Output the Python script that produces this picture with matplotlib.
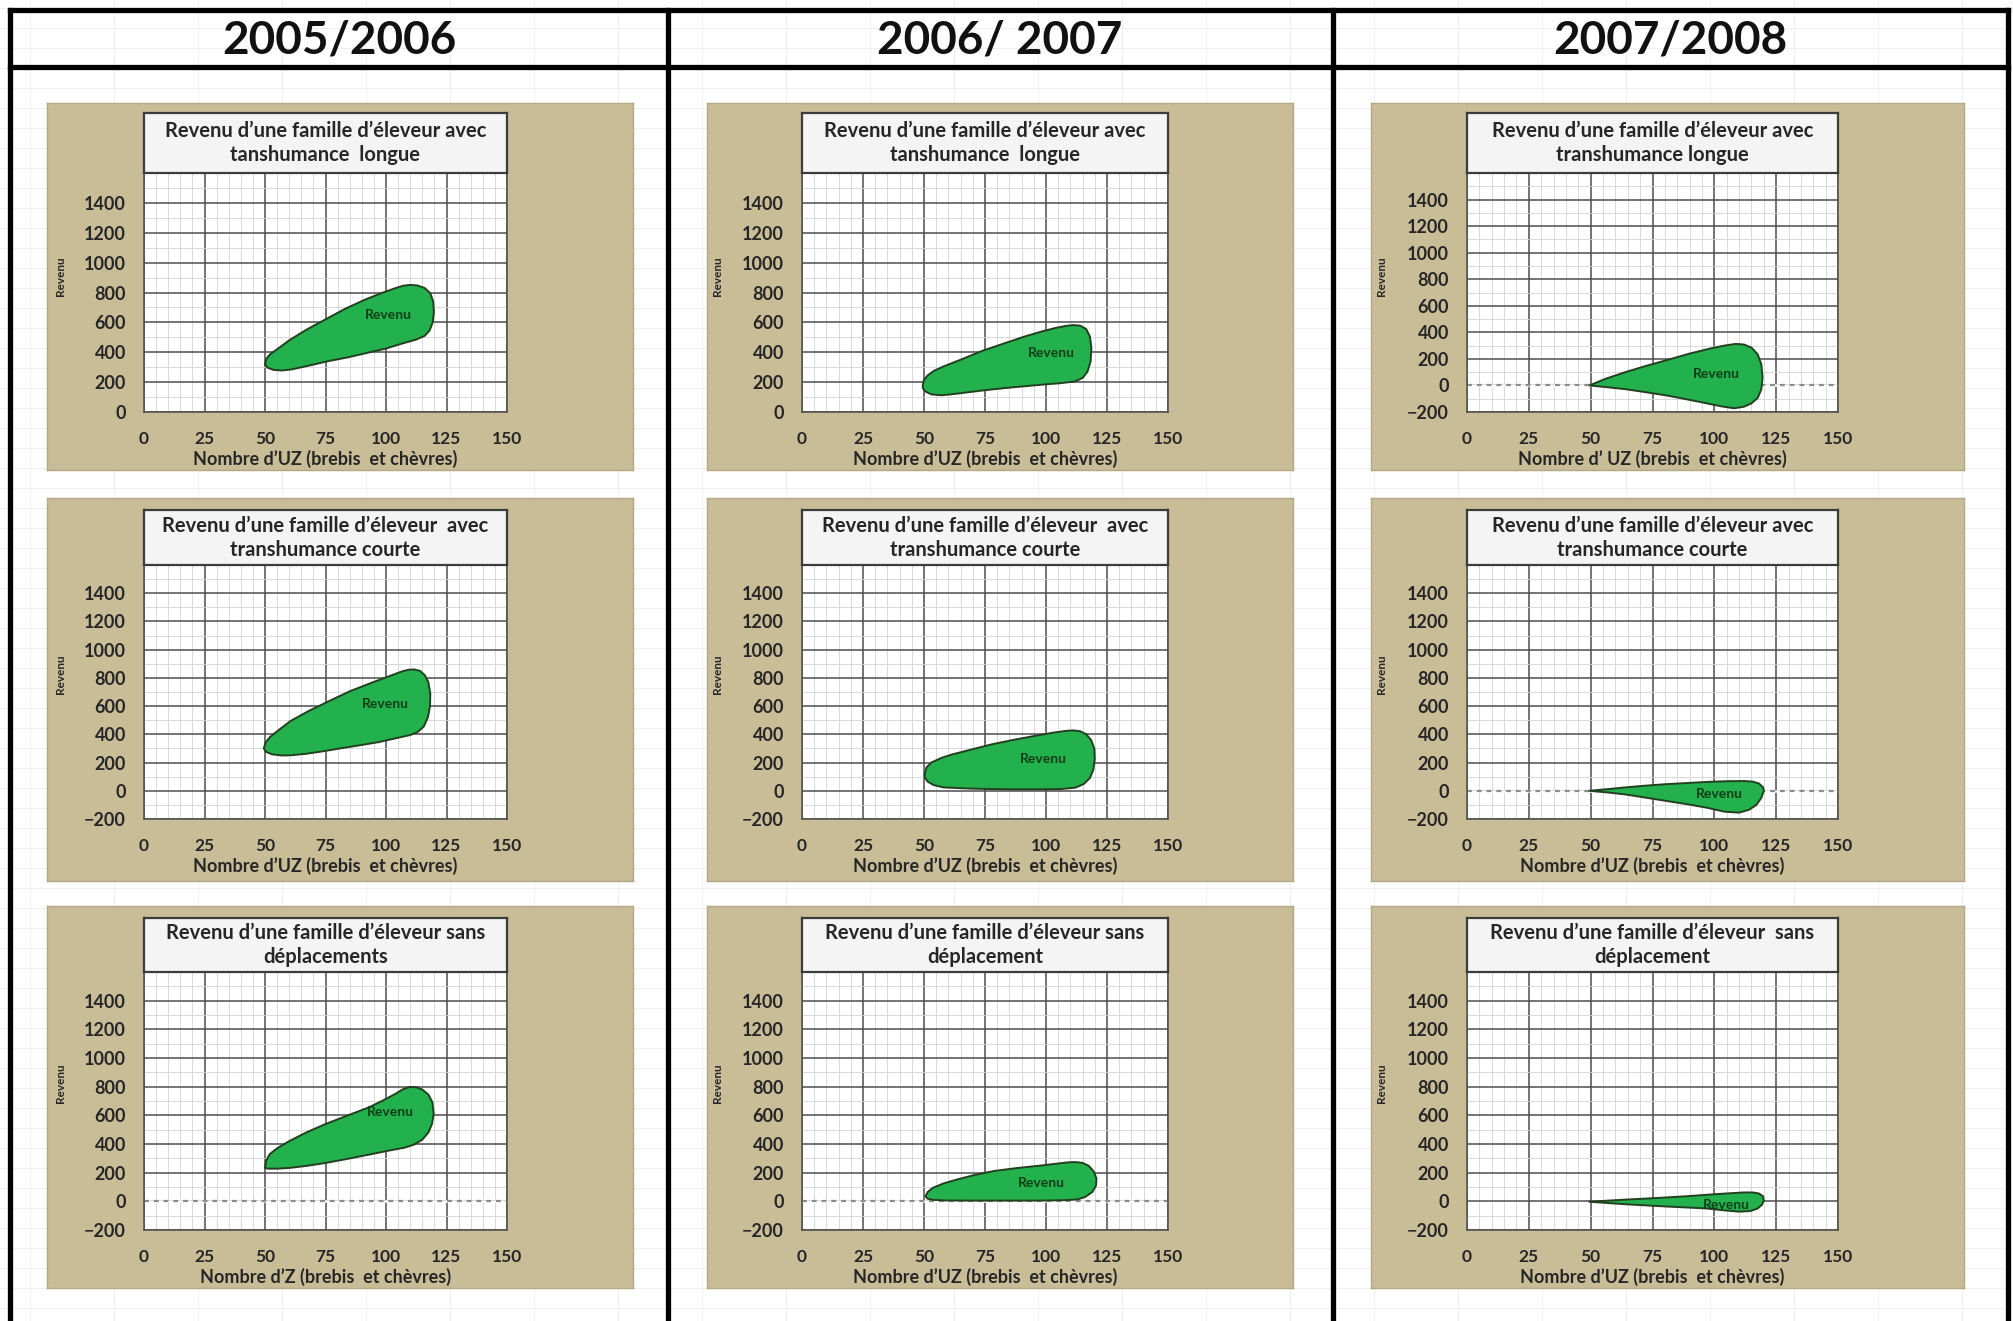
import numpy as np
import matplotlib.pyplot as plt
from matplotlib.ticker import MultipleLocator

plt.rcParams['font.family'] = ['Lato', 'DejaVu Sans']

W, H = 2013, 1321

# ── data ──────────────────────────────────────────────
years = ["2005/2006", "2006/ 2007", "2007/2008"]

# panels in row-major order (row 0 = transhumance longue, row 1 = courte, row 2 = sans déplacement)
titles = [
    "Revenu d\u2019une famille d\u2019éleveur avec\ntanshumance  longue",
    "Revenu d\u2019une famille d\u2019éleveur avec\ntanshumance  longue",
    "Revenu d\u2019une famille d\u2019éleveur avec\ntranshumance longue",
    "Revenu d\u2019une famille d\u2019éleveur  avec\ntranshumance courte",
    "Revenu d\u2019une famille d\u2019éleveur  avec\ntranshumance courte",
    "Revenu d\u2019une famille d\u2019éleveur avec\ntranshumance courte",
    "Revenu d\u2019une famille d\u2019éleveur sans\ndéplacements",
    "Revenu d\u2019une famille d\u2019éleveur sans\ndéplacement",
    "Revenu d\u2019une famille d\u2019éleveur  sans\ndéplacement",
]
xlabels = [
    "Nombre d\u2019UZ (brebis  et chèvres)",
    "Nombre d\u2019UZ (brebis  et chèvres)",
    "Nombre d\u2019 UZ (brebis  et chèvres)",
    "Nombre d\u2019UZ (brebis  et chèvres)",
    "Nombre d\u2019UZ (brebis  et chèvres)",
    "Nombre d\u2019UZ (brebis  et chèvres)",
    "Nombre d\u2019Z (brebis  et chèvres)",
    "Nombre d\u2019UZ (brebis  et chèvres)",
    "Nombre d\u2019UZ (brebis  et chèvres)",
]
y_min = [0, 0, -200, -200, -200, -200, -200, -200, -200]
x_ticks = [0, 25, 50, 75, 100, 125, 150]

# outline of the "Revenu" area in each panel (Nombre d'UZ, Revenu)
r0c0_x = [50, 50.5, 52, 55, 60, 67, 75, 83, 91, 98, 104, 107, 110, 113, 116, 118.3, 119.5, 119.8,
          119.3, 118, 116, 112.5, 106, 100, 92, 84, 76, 68, 61, 57, 53.5, 51, 50]
r0c0_y = [320, 355, 385, 420, 480, 550, 620, 690, 750, 795, 830, 845, 851, 847, 830, 795, 740, 670,
          600, 545, 510, 485, 455, 425, 395, 365, 340, 310, 285, 278, 282, 297, 320]
r0c1_x = [49.5, 50, 51.5, 54, 58, 65, 74, 83, 91, 98, 104, 108, 111, 114, 116.5, 118, 118.6, 118.3,
          117, 115, 112, 106, 99, 91, 83, 75, 67, 61, 57, 53, 50.5, 49.5]
r0c1_y = [180, 215, 245, 275, 305, 350, 410, 460, 504, 538, 563, 576, 582, 578, 555, 505, 430, 340,
          270, 228, 205, 193, 184, 172, 160, 146, 130, 118, 112, 118, 138, 160]
r0c2_x = [49.5, 56, 64, 72, 80.6, 90, 98.8, 104, 108.7, 112, 115, 117.5, 119, 119.5, 119, 117.5,
          115, 112, 108, 103, 97, 89, 80.6, 72, 64, 56, 49.5]
r0c2_y = [0, 50, 100, 145, 190, 240, 280, 300, 313, 308, 285, 235, 160, 60, -30, -95,
          -135, -160, -172, -158, -135, -105, -75, -50, -28, -12, 0]
r1c0_x = [49.5, 50.2, 52, 56, 60.5, 68, 76.4, 85, 94, 101, 106.8, 109.5, 111.6, 114, 116, 117.5,
          118.3, 118.2, 117.3, 115.6, 113, 110, 104, 97, 89, 81, 74, 67, 61, 57, 53, 50.5, 49.5]
r1c0_y = [300, 340, 380, 435, 494, 565, 635, 705, 765, 810, 847, 858, 860, 850, 820, 770,
          690, 600, 520, 455, 415, 395, 372, 345, 322, 300, 280, 262, 252, 250, 258, 275, 300]
r1c1_x = [50.3, 51, 53, 57, 61, 70, 78, 87, 96.4, 103, 108, 111, 114, 116.5, 118.5, 119.8, 120,
          119.4, 118, 115.5, 112, 106, 96.4, 87, 78, 68, 58, 54, 51.5, 50.3]
r1c1_y = [120, 165, 200, 232, 255, 295, 330, 362, 392, 412, 424, 428, 422, 400, 360, 300, 230,
          150, 90, 48, 22, 12, 10, 10, 12, 16, 24, 40, 65, 95]
r1c2_x = [49.5, 57, 64, 72, 80.6, 90, 98.8, 106, 112, 115.5, 118, 119.7, 120, 119, 117, 114, 110,
          104, 97, 89, 80.6, 72, 64, 57, 49.5]
r1c2_y = [0, 12, 24, 36, 47, 56, 64, 68, 69, 65, 52, 25, 0, -50, -100, -135, -155,
          -148, -120, -95, -72, -48, -26, -12, 0]
r2c0_x = [50, 50.5, 52, 55, 60, 67, 74.8, 84, 93, 99, 104, 107, 109.7, 112.5, 115, 117.5, 119.2,
          119.7, 119, 117.5, 115, 111.5, 107.8, 100, 93, 84, 74.8, 67, 60, 55, 51.5, 50]
r2c0_y = [235, 285, 330, 370, 420, 480, 538, 598, 656, 706, 751, 782, 798, 796, 780, 745, 690,
          610, 540, 480, 430, 395, 375, 350, 326, 296, 267, 247, 233, 228, 228, 232]
r2c1_x = [50.6, 51.5, 53.6, 58, 63.7, 71, 78.8, 88, 97, 104, 109, 112, 115, 117.5, 119.5, 120.7,
          120.5, 119, 116, 113, 108, 97, 88, 78.8, 68, 58.7, 54, 51.5, 50.6]
r2c1_y = [35, 65, 94, 125, 153, 185, 212, 232, 248, 262, 272, 274, 268, 248, 210, 160,
          110, 65, 30, 14, 8, 5, 5, 5, 5, 6, 10, 18, 35]
r2c2_x = [49.5, 57, 64, 72, 80.6, 90, 98.8, 106, 112, 115.5, 118, 119.7, 120, 119.2, 117.5, 114.5,
          110, 104, 97, 89, 80.6, 72, 64, 57, 49.5]
r2c2_y = [-3, 5, 12, 19, 27, 37, 48, 56, 62, 62, 55, 35, 5, -25, -50, -68,
          -72, -63, -50, -43, -36, -28, -20, -12, -3]

blob_x = [r0c0_x, r0c1_x, r0c2_x, r1c0_x, r1c1_x, r1c2_x, r2c0_x, r2c1_x, r2c2_x]
blob_y = [r0c0_y, r0c1_y, r0c2_y, r1c0_y, r1c1_y, r1c2_y, r2c0_y, r2c1_y, r2c2_y]

# where the "Revenu" series label sits
label_x = [101, 102, 101, 99.6, 99, 102, 102, 98, 105]
label_y = [650, 392, 86, 612, 224, -24, 621, 125, -24]

# ── layout (pixels of the 2013x1321 picture) ─────────
col_tan = [(47, 633), (707, 1293), (1371, 1964)]
col_plot = [(144, 507), (802, 1168), (1467, 1838)]
row_tan = [(103, 470), (498, 881), (906, 1288)]
row_title = [(113, 173), (510, 565), (918, 972)]
row_bottom = [412, 819, 1230]
zero_dashed = [False, False, True, False, False, True, True, True, False]

TAN = '#c9bd98'
GREEN = '#22b14c'
TXT = '#262626'


def rect(x0, y0, x1, y1):
    return [x0 / W, 1 - y1 / H, (x1 - x0) / W, (y1 - y0) / H]


fig = plt.figure(figsize=(W / 100, H / 100), dpi=100)

# background: spreadsheet cells + table frame
bg = fig.add_axes([0, 0, 1, 1], zorder=0)
bg.set_xlim(0, W)
bg.set_ylim(H, 0)
bg.axis('off')
for yy in range(8, H, 20):
    bg.axhline(yy, color='#ededed', lw=0.6)
for xx in range(30, W, 84):
    bg.axvline(xx, color='#ededed', lw=0.6)

lw_tab = 3.8
bg.plot([10, 2008], [10, 10], color='black', lw=lw_tab, solid_capstyle='projecting')
bg.plot([10, 2008], [67, 67], color='black', lw=lw_tab)
for xx in [10, 668, 1333, 2008]:
    bg.plot([xx, xx], [10, H], color='black', lw=lw_tab, solid_capstyle='projecting')
bg.fill_between([12, 2006], 12, 65, color='white', zorder=0.5)
for j, yr in enumerate(years):
    cx = [339, 1000, 1670][j]
    bg.text(cx, 41, yr, ha='center', va='center', fontsize=33, fontweight='bold', color='#111111')

for k in range(9):
    r, c = divmod(k, 3)
    tx0, tx1 = col_tan[c]
    ty0, ty1 = row_tan[r]
    px0, px1 = col_plot[c]
    t0, t1 = row_title[r]
    pb = row_bottom[r]

    # tan chart area
    tan = fig.add_axes(rect(tx0, ty0, tx1, ty1), zorder=1)
    tan.set_facecolor(TAN)
    tan.set_xticks([])
    tan.set_yticks([])
    for s in tan.spines.values():
        s.set_color('#b3a884')
        s.set_linewidth(1.0)

    # plot area
    ax = fig.add_axes(rect(px0, t1, px1, pb), zorder=2)
    ax.set_facecolor('white')
    ax.set_xlim(0, 150)
    ax.set_ylim(y_min[k], 1600)
    ax.set_xticks(x_ticks)
    ax.set_yticks(np.arange(y_min[k], 1401, 200))
    ax.xaxis.set_minor_locator(MultipleLocator(5))
    ax.yaxis.set_minor_locator(MultipleLocator(100))
    ax.set_axisbelow(True)
    ax.grid(which='minor', color='#d2d2d2', lw=0.6)
    ax.grid(which='major', color='#4d4d4d', lw=1.1)
    ax.tick_params(which='both', length=0)
    ax.tick_params(axis='y', pad=13, labelsize=13, labelcolor=TXT)
    ax.tick_params(axis='x', pad=14, labelsize=12.5, labelcolor=TXT)
    for lab in ax.get_xticklabels() + ax.get_yticklabels():
        lab.set_fontweight('bold')
    for name, s in ax.spines.items():
        s.set_color('#4d4d4d')
        s.set_linewidth(1.1)
    ax.spines['top'].set_visible(False)

    if zero_dashed[k]:
        ax.axhline(0, color='white', lw=1.8, zorder=1.8)
        ax.axhline(0, color='#8c8c8c', lw=1.6, ls=(0, (2.2, 2.2)), zorder=1.9)

    ax.fill(blob_x[k], blob_y[k], facecolor=GREEN, edgecolor='#22401f',
            lw=1.4, joinstyle='round', zorder=3)
    ax.text(label_x[k], label_y[k], 'Revenu', ha='center', va='center',
            fontsize=10, fontweight='bold', color='#0f3f18', zorder=4)

    ax.set_xlabel(xlabels[k], fontsize=13, fontweight='bold', color=TXT, labelpad=2)
    ax.set_ylabel('Revenu', fontsize=8.5, fontweight='bold', color=TXT)
    ax.yaxis.set_label_coords(-0.215, 0.57)

    # title box
    tb = fig.add_axes(rect(px0, t0, px1, t1), zorder=3)
    tb.set_facecolor('#f4f4f4')
    tb.set_xticks([])
    tb.set_yticks([])
    for s in tb.spines.values():
        s.set_color('#3c3c3c')
        s.set_linewidth(1.6)
    tb.text(0.5, 0.5, titles[k], ha='center', va='center', fontsize=14.5,
            fontweight='bold', color=TXT, linespacing=1.25, transform=tb.transAxes)

fig.savefig('out.png', dpi=100)
